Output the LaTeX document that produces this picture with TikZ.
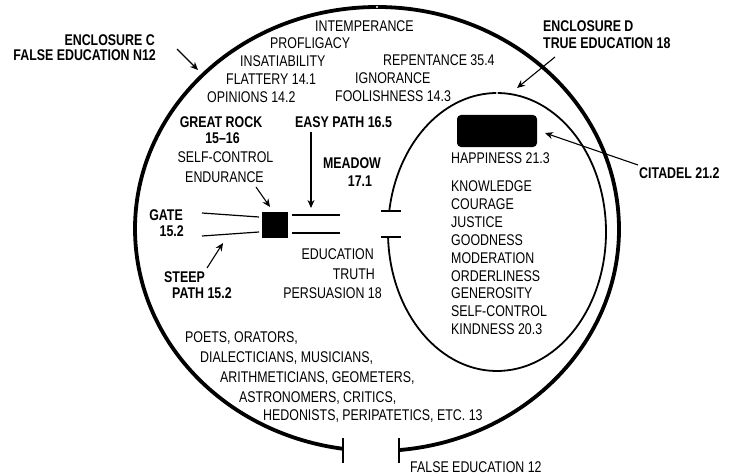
\documentclass[tikz,border=0pt]{standalone}
\usepackage{fontspec}
\setmainfont{Liberation Sans}[FakeStretch=0.8]
\usetikzlibrary{arrows.meta}
\begin{document}
\begin{tikzpicture}[x=1pt,y=-1pt,
  txt/.style={inner sep=0pt, font=\fontsize{15.5}{18}\selectfont},
  btxt/.style={inner sep=0pt, font=\fontsize{15.5}{18}\selectfont\bfseries},
  ptr/.style={line width=1.1pt, -{Stealth[length=8pt,width=7pt]}},
  rule/.style={line width=1.2pt},
  tick/.style={line width=1.5pt},
]
\useasboundingbox (0,0) rectangle (733,476);
% enclosures
\coordinate (oc) at (377,229);
\draw[line width=3.8pt] ([shift={(-84.8:242pt and 222pt)}]oc) arc[start angle=-84.8, end angle=261.9, x radius=242pt, y radius=222pt];
\draw[tick] (343,438) -- (343,463);
\draw[tick] (399,438) -- (399,463);
\coordinate (ic) at (497,232);
\draw[line width=1.8pt] ([shift={(182.06:109pt and 139pt)}]ic) arc[start angle=182.06, end angle=531.3, x radius=109pt, y radius=139pt];
\draw[tick] (381,211) -- (401,211);
\draw[tick] (381,237) -- (401,237);
\fill[white] (377,7) circle (1.2pt);
\fill[white] (497,93) circle (1.1pt);
% citadel and rock
\node[fill=black, rounded corners=4pt, minimum width=80pt, minimum height=32pt, inner sep=0pt] (citadel) at (497,131) {};
\node[fill=black, minimum size=26pt, inner sep=0pt] (rock) at (275,225) {};
\draw[rule] (292,215) -- (340,215);
\draw[rule] (292,233) -- (340,233);
\draw[rule] (202,213) -- (259,217);
\draw[rule] (202,236) -- (259,232);
% labels outside
\node[btxt, anchor=base east] (encC) at (155,45.5) {ENCLOSURE C};
\node[btxt, anchor=base east] (falseN) at (156,60.5) {FALSE EDUCATION N12};
\node[btxt, anchor=base west] (encD) at (543,31.5) {ENCLOSURE D};
\node[btxt, anchor=base west] (trueE) at (543,48.5) {TRUE EDUCATION 18};
\node[btxt, anchor=base west] (citlab) at (639,178.5) {CITADEL 21.2};
\node[txt, anchor=base west] (false12) at (410,472.5) {FALSE EDUCATION 12};
% vices
\node[txt, anchor=base west] (intemp) at (315,31.5) {INTEMPERANCE};
\node[txt, anchor=base west] (profl) at (270,48.5) {PROFLIGACY};
\node[txt, anchor=base west] (insat) at (240,66.5) {INSATIABILITY};
\node[txt, anchor=base west] (flat) at (226,84.5) {FLATTERY 14.1};
\node[txt, anchor=base west] (opin) at (207,102.5) {OPINIONS 14.2};
\node[txt, anchor=base west] (repent) at (383,65.5) {REPENTANCE 35.4};
\node[txt, anchor=base west] (ignor) at (355,83.5) {IGNORANCE};
\node[txt, anchor=base west] (fool) at (335,101.5) {FOOLISHNESS 14.3};
% left part
\node[btxt, anchor=base] (great) at (221,127.5) {GREAT ROCK};
\node[btxt, anchor=base] (gr1516) at (222.5,143.5) {15--16};
\node[txt, anchor=base] (selfc) at (225.5,162.5) {SELF-CONTROL};
\node[txt, anchor=base] (endur) at (224.5,182.5) {ENDURANCE};
\node[btxt, anchor=base west] (easy) at (295,127.5) {EASY PATH 16.5};
\node[btxt, anchor=base] (meadow) at (352,168.5) {MEADOW};
\node[btxt, anchor=base] (m171) at (360,186.5) {17.1};
\node[btxt, anchor=base east] (gate) at (183,220.5) {GATE};
\node[btxt, anchor=base east] (g152) at (184,236.5) {15.2};
\node[btxt, anchor=base west] (steep) at (164,282.5) {STEEP};
\node[btxt, anchor=base west] (spath) at (172,298.5) {PATH 15.2};
\node[txt, anchor=base east] (educ) at (374,259.5) {EDUCATION};
\node[txt, anchor=base east] (truth) at (375,279.5) {TRUTH};
\node[txt, anchor=base east] (pers) at (382,298.5) {PERSUASION 18};
% virtues
\node[txt, anchor=base west] (happy) at (451,163.5) {HAPPINESS 21.3};
\node[txt, anchor=base west] (v1) at (451,191.5) {KNOWLEDGE};
\node[txt, anchor=base west] (v2) at (451,209.5) {COURAGE};
\node[txt, anchor=base west] (v3) at (451,227.5) {JUSTICE};
\node[txt, anchor=base west] (v4) at (451,245.5) {GOODNESS};
\node[txt, anchor=base west] (v5) at (451,263.5) {MODERATION};
\node[txt, anchor=base west] (v6) at (451,281.5) {ORDERLINESS};
\node[txt, anchor=base west] (v7) at (451,298.5) {GENEROSITY};
\node[txt, anchor=base west] (v8) at (451,316.5) {SELF-CONTROL};
\node[txt, anchor=base west] (v9) at (451,334.5) {KINDNESS 20.3};
% false teachers
\node[txt, anchor=base west] (t1) at (185,342.5) {POETS, ORATORS,};
\node[txt, anchor=base west] (t2) at (200,362.5) {DIALECTICIANS, MUSICIANS,};
\node[txt, anchor=base west] (t3) at (220,382.5) {ARITHMETICIANS, GEOMETERS,};
\node[txt, anchor=base west] (t4) at (239,402.5) {ASTRONOMERS, CRITICS,};
\node[txt, anchor=base west] (t5) at (263,420.5) {HEDONISTS, PERIPATETICS, ETC. 13};
% arrows
\coordinate (aC1) at (177,49);  \coordinate (aC2) at (198,70);
\coordinate (aD1) at (555,57);  \coordinate (aD2) at (517,88);
\coordinate (aT1) at (638,165); \coordinate (aT2) at (545,133);
\coordinate (aE1) at (311,132); \coordinate (aE2) at (311,208);
\coordinate (aR1) at (256,187); \coordinate (aR2) at (270,207);
\coordinate (aS1) at (207,268); \coordinate (aS2) at (223,243);
\draw[ptr] (aC1) -- (aC2);
\draw[ptr] (aD1) -- (aD2);
\draw[ptr] (aT1) -- (aT2);
\draw[ptr] (aE1) -- (aE2);
\draw[ptr] (aR1) -- (aR2);
\draw[ptr] (aS1) -- (aS2);
\end{tikzpicture}
\end{document}
